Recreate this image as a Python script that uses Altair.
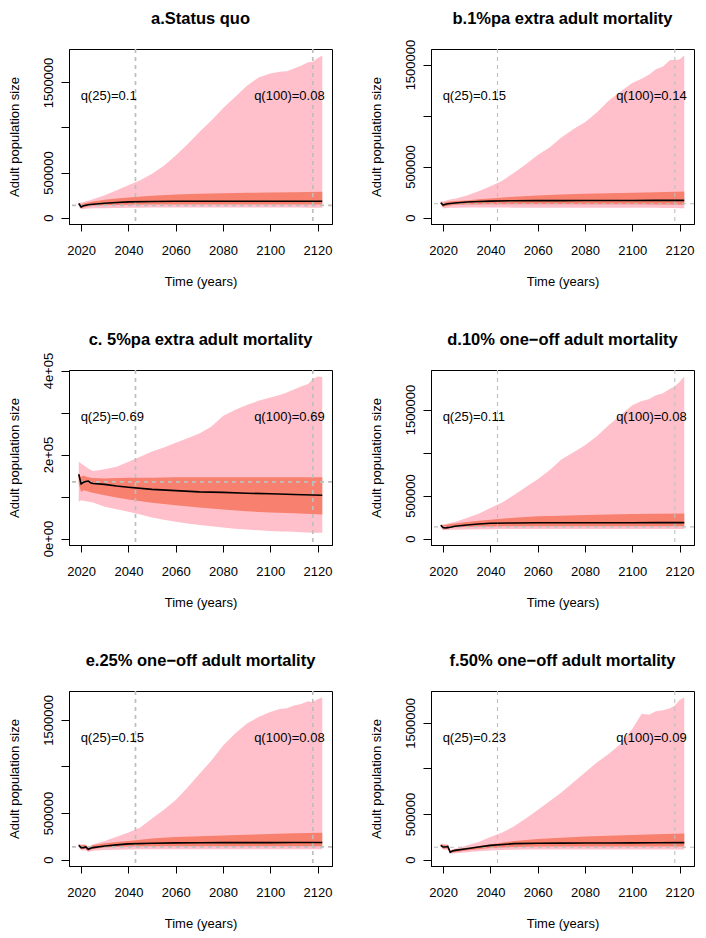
import altair as alt
import pandas as pd

# ---------------- data (population values in thousands of adults) ----------------
YEARS_U = [2019, 2020, 2021, 2022, 2023, 2024, 2025, 2030, 2035, 2040, 2045, 2050, 2055, 2060,
           2065, 2070, 2075, 2080, 2085, 2090, 2095, 2100, 2104, 2107, 2110, 2113, 2116, 2118,
           2120, 2122]
YEARS_S = [2019, 2020, 2021, 2022, 2023, 2024, 2025, 2030, 2035, 2040, 2050, 2060, 2070, 2080,
           2090, 2100, 2110, 2122]

# a. Status quo
A_HI95 = [165, 167, 172, 180, 187, 195, 204, 248, 304, 359, 415, 485, 575, 690, 815, 950, 1075,
          1215, 1335, 1460, 1555, 1600, 1620, 1625, 1655, 1685, 1725, 1730, 1770, 1800]
A_LO95 = [120, 93, 95, 98, 100, 101, 102, 104, 106, 108, 109, 110, 110, 110, 110, 110, 110, 110,
          110, 110, 110, 110, 110, 110, 110, 110, 109, 109, 108, 108]
A_HI50 = [160, 148, 155, 162, 168, 173, 178, 196, 210, 222, 241, 256, 263, 270, 274, 278, 281, 285]
A_LO50 = [145, 104, 112, 118, 122, 126, 130, 135, 139, 142, 144, 145, 145, 145, 145, 145, 145, 145]
A_MED = [155, 118, 130, 137, 141, 145, 148, 159, 167, 174, 178, 180, 180, 181, 181, 181, 181, 181]

# b. 1%pa extra adult mortality
B_HI95 = [161, 158, 165, 172, 177, 181, 184, 216, 258, 306, 361, 440, 523, 614, 686, 784, 866,
          935, 1030, 1144, 1235, 1320, 1360, 1400, 1454, 1480, 1545, 1545, 1550, 1589]
B_LO95 = [120, 90, 92, 94, 95, 96, 97, 98, 98, 98, 98, 97, 97, 97, 97, 97, 97, 97, 97, 96, 96,
          96, 95, 95, 95, 94, 94, 93, 92, 90]
B_HI50 = [152, 145, 150, 154, 157, 160, 162, 168, 178, 187, 203, 216, 225, 232, 237, 242, 248, 255]
B_LO50 = [140, 103, 110, 115, 119, 122, 124, 127, 128, 129, 129, 129, 129, 129, 129, 129, 128, 126]
B_MED = [145, 123, 130, 135, 138, 140, 142, 152, 157, 161, 165, 166, 166, 167, 167, 167, 168, 168]

# c. 5%pa extra adult mortality
C_HI95 = [183, 179, 175, 171, 167, 164, 161, 165, 171, 183, 195, 207, 217, 228, 239, 250, 266,
          292, 306, 318, 328, 336, 342, 348, 355, 362, 368, 380, 386, 385]
C_LO95 = [87, 91, 90, 89, 88, 87, 86, 75.5, 70, 64, 57, 50, 45, 40, 36, 32, 29, 26, 23.5, 21.5,
          19.5, 18, 17, 16.5, 16, 15, 14.5, 14, 13.5, 13.5]
C_HI50 = [151, 147, 150, 148, 146, 145, 144, 143, 144, 145, 145, 146, 146, 146, 146, 146, 146, 146]
C_LO50 = [131, 111, 115, 114, 112, 110, 109, 103, 98, 93, 85, 79.5, 74, 69, 65, 62, 60, 57]
C_MED = [153, 130, 134, 136, 137, 133, 131, 129, 125, 122, 117, 114, 111, 110, 108, 106.5, 105, 103]

# d. 10% one-off adult mortality
D_HI95 = [165, 162, 168, 175, 181, 187, 192, 238, 288, 355, 420, 505, 600, 690, 795, 919, 1000,
          1085, 1190, 1318, 1434, 1550, 1600, 1620, 1667, 1690, 1740, 1770, 1820, 1884]
D_LO95 = [125, 96, 98, 100, 101, 102, 103, 104, 107, 109, 111, 111, 111, 111, 111, 111, 111, 111,
          111, 111, 111, 111, 111, 111, 111, 111, 111, 111, 111, 111]
D_HI50 = [158, 154, 158, 163, 168, 172, 176, 192, 207, 219, 242, 258, 266, 273, 279, 285, 289, 292]
D_LO50 = [145, 104, 110, 118, 123, 127, 130, 135, 139, 141, 142, 142, 142, 142, 142, 142, 142, 142]
D_MED = [154, 127, 123, 127, 131, 137, 142, 158, 169, 177, 181, 183, 183, 184, 184, 184, 185, 185]

# e. 25% one-off adult mortality
E_HI95 = [164, 163, 162, 160, 135, 150, 164, 200, 245, 290, 345, 440, 535, 640, 773, 917, 1060,
          1223, 1350, 1457, 1530, 1583, 1615, 1625, 1655, 1670, 1700, 1690, 1720, 1740]
E_LO95 = [130, 99, 100, 98, 80, 88, 95, 102, 106, 108, 110, 110, 110, 110, 110, 110, 110, 110,
          110, 110, 110, 110, 110, 110, 110, 110, 110, 110, 110, 110]
E_HI50 = [164, 150, 158, 155, 128, 142, 153, 175, 188, 200, 226, 241, 251, 259, 267, 274, 281, 288]
E_LO50 = [142, 110, 115, 112, 91, 102, 112, 128, 136, 140, 142, 142, 142, 142, 142, 142, 142, 142]
E_MED = [153, 128, 128, 135, 110, 120, 128, 146, 157, 168, 175, 179, 180, 181, 181, 181, 182, 182]

# f. 50% one-off adult mortality
F_HI95 = [174, 172, 168, 165, 100, 110, 118, 155, 193, 248, 296, 365, 450, 545, 640, 735, 845,
          956, 1066, 1158, 1268, 1434, 1600, 1590, 1628, 1640, 1660, 1690, 1750, 1779]
F_LO95 = [140, 107, 108, 106, 63, 66, 70, 81, 92, 100, 104, 107, 109, 111, 111, 111, 111, 111,
          111, 111, 111, 111, 111, 111, 111, 111, 111, 111, 111, 111]
F_HI50 = [167, 160, 158, 155, 100, 106, 111, 130, 148, 167, 204, 226, 240, 252, 261, 270, 278, 285]
F_LO50 = [145, 118, 120, 122, 70, 76, 81, 100, 114, 126, 137, 142, 144, 144, 144, 144, 144, 144]
F_MED = [155, 137, 137, 144, 81, 93, 100, 118, 137, 155, 174, 178, 180, 181, 182, 183, 184, 185]

TITLES = ["a.Status quo", "b.1%pa extra adult mortality", "c. 5%pa extra adult mortality",
          "d.10% one\u2212off adult mortality", "e.25% one\u2212off adult mortality",
          "f.50% one\u2212off adult mortality"]
Q25 = ["0.1", "0.15", "0.69", "0.11", "0.15", "0.23"]
Q100 = ["0.08", "0.14", "0.69", "0.08", "0.08", "0.09"]
THRESHOLD = 135000
Q_YEARS = [2043, 2118]
X_TICKS = [2020, 2040, 2060, 2080, 2100, 2120]

SERIES = [
    (A_HI95, A_LO95, A_HI50, A_LO50, A_MED),
    (B_HI95, B_LO95, B_HI50, B_LO50, B_MED),
    (C_HI95, C_LO95, C_HI50, C_LO50, C_MED),
    (D_HI95, D_LO95, D_HI50, D_LO50, D_MED),
    (E_HI95, E_LO95, E_HI50, E_LO50, E_MED),
    (F_HI95, F_LO95, F_HI50, F_LO50, F_MED),
]

FONT = "Liberation Sans"
W, H = 263, 175
PINK = "#FFC0CB"
SALMON = "#F7806F"
GREY = "#BEBEBE"


def panel(i):
    hi95, lo95, hi50, lo50, med = SERIES[i]
    k = 1000
    outer = pd.DataFrame({"year": YEARS_U, "hi": [v * k for v in hi95], "lo": [v * k for v in lo95]})
    inner = pd.DataFrame({"year": YEARS_S, "hi": [v * k for v in hi50], "lo": [v * k for v in lo50],
                          "med": [v * k for v in med]})
    top = max(hi95) * k
    xs = alt.Scale(domain=[2014.88, 2126.12], nice=False, zero=False)
    ys = alt.Scale(domain=[-0.04 * top, 1.04 * top], nice=False, zero=False)
    left = (i % 2 == 0)
    dash_w = 1.7 if left else 1.1

    if i == 2:
        yvals = [0, 100000, 200000, 300000, 400000]
        lab = ("datum.value == 0 ? '0e+00' : datum.value == 200000 ? '2e+05' : "
               "datum.value == 400000 ? '4e+05' : ''")
    else:
        yvals = [0, 500000, 1000000, 1500000]
        lab = "datum.value == 1000000 ? '' : format(datum.value, 'd')"

    xaxis = alt.Axis(values=X_TICKS, format="d", title="Time (years)", grid=False,
                     tickSize=7, labelPadding=23, labelBaseline="alphabetic",
                     labelFontSize=13, labelFont=FONT, labelColor="black",
                     labelFlush=False, labelOverlap=False,
                     titleFontSize=13, titleFont=FONT, titleFontWeight="normal", titleColor="black",
                     titleY=61, titleBaseline="alphabetic",
                     domainColor="black", tickColor="black")
    yaxis = alt.Axis(values=yvals, labelExpr=lab, title="Adult population size", grid=False,
                     tickSize=8, labelPadding=9, labelAngle=270, labelAlign="center",
                     labelBaseline="alphabetic", labelFontSize=13, labelFont=FONT,
                     labelColor="black", labelFlush=False, labelOverlap=False,
                     titleFontSize=13, titleFont=FONT, titleFontWeight="normal", titleColor="black",
                     titleAngle=270, titleX=-51, titleY=H / 2, titleAlign="center",
                     titleBaseline="alphabetic", domainColor="black", tickColor="black")

    X = lambda f: alt.X(f, scale=xs, axis=xaxis)
    Y = lambda f: alt.Y(f, scale=ys, axis=yaxis)

    band95 = alt.Chart(outer).mark_area(color=PINK, opacity=1).encode(
        x=X("year:Q"), y=Y("hi:Q"), y2="lo:Q")
    band50 = alt.Chart(inner).mark_area(color=SALMON, opacity=1).encode(
        x=X("year:Q"), y=Y("hi:Q"), y2="lo:Q")
    hline = alt.Chart(pd.DataFrame({"v": [THRESHOLD]})).mark_rule(
        color=GREY, strokeDash=[4, 4], strokeWidth=dash_w).encode(y=Y("v:Q"))
    vlines = alt.Chart(pd.DataFrame({"year": Q_YEARS})).mark_rule(
        color=GREY, strokeDash=[4, 4], strokeWidth=dash_w).encode(x=X("year:Q"))
    medline = alt.Chart(inner).mark_line(color="black", strokeWidth=1.6).encode(
        x=X("year:Q"), y=Y("med:Q"))
    ann = pd.DataFrame({
        "x": [2019.8, 2123.0],
        "y": [0.75 * top, 0.75 * top],
        "label": ["q(25)=" + Q25[i], "q(100)=" + Q100[i]],
    })
    t_left = alt.Chart(ann.iloc[[0]]).mark_text(align="left", baseline="middle", fontSize=13,
                                                font=FONT, color="black").encode(
        x=X("x:Q"), y=Y("y:Q"), text="label:N")
    t_right = alt.Chart(ann.iloc[[1]]).mark_text(align="right", baseline="middle", fontSize=13,
                                                 font=FONT, color="black").encode(
        x=X("x:Q"), y=Y("y:Q"), text="label:N")
    title = alt.Chart(pd.DataFrame({"t": [TITLES[i]]})).mark_text(
        align="center", baseline="alphabetic", fontSize=16.5, fontWeight="bold", font=FONT,
        color="black").encode(x=alt.value(W / 2), y=alt.value(-25), text="t:N")

    return alt.layer(band95, band50, hline, vlines, medline, t_left, t_right, title).properties(
        width=W, height=H)


chart = alt.concat(*[panel(i) for i in range(6)], columns=2,
                   spacing={"row": 146, "column": 99}, bounds="flush").properties(
    padding={"left": 7, "top": 10, "right": 5, "bottom": 5},
    background="white",
).configure_view(stroke="black", strokeWidth=1).configure_axis(domainWidth=1, tickWidth=1)

chart.save("out.html", embed_options={"renderer": "svg", "actions": False})
